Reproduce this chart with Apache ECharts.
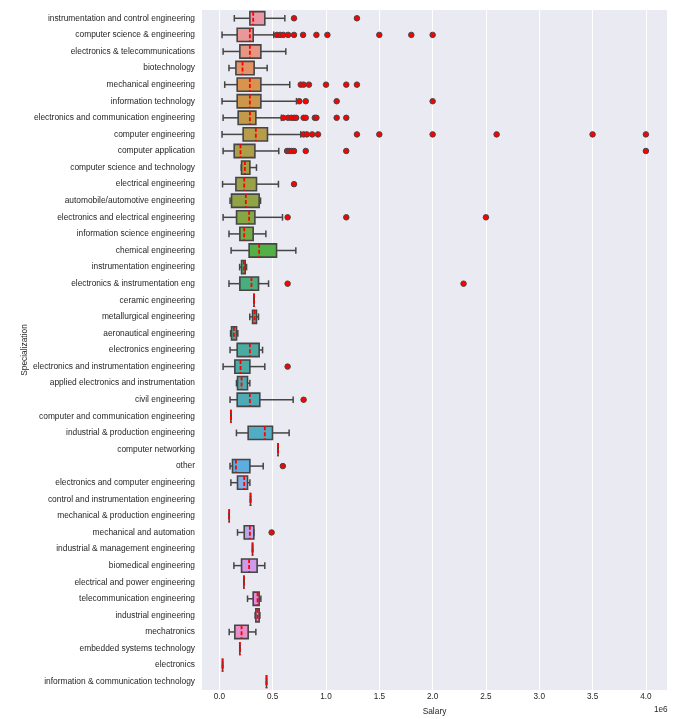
<!DOCTYPE html>
<html><head><meta charset="utf-8">
<script src="https://cdn.jsdelivr.net/npm/echarts@6/dist/echarts.min.js"></script>
<style>html,body{margin:0;padding:0;background:#fff}#c{width:683px;height:719px}</style>
</head><body><div id="c"></div>
<script>
const categories = [
  "instrumentation and control engineering","computer science & engineering","electronics & telecommunications",
  "biotechnology","mechanical engineering","information technology","electronics and communication engineering",
  "computer engineering","computer application","computer science and technology","electrical engineering",
  "automobile/automotive engineering","electronics and electrical engineering","information science engineering",
  "chemical engineering","instrumentation engineering","electronics & instrumentation eng","ceramic engineering",
  "metallurgical engineering","aeronautical engineering","electronics engineering",
  "electronics and instrumentation engineering","applied electronics and instrumentation","civil engineering",
  "computer and communication engineering","industrial & production engineering","computer networking","other",
  "electronics and computer engineering","control and instrumentation engineering",
  "mechanical & production engineering","mechanical and automation","industrial & management engineering",
  "biomedical engineering","electrical and power engineering","telecommunication engineering",
  "industrial engineering","mechatronics","embedded systems technology","electronics",
  "information & communication technology"
];
const whiskerLow = [140000,25000,35000,90000,50000,25000,35000,25000,35000,205000,30000,100000,35000,90000,110000,190000,90000,325000,285000,105000,100000,35000,160000,100000,108000,160000,550000,100000,108000,292000,92000,170000,311000,136000,230000,264000,335000,92000,192000,30000,442000];
const q1 = [286000,167000,192000,155000,167000,167000,176000,223000,139000,208000,155000,114000,161000,192000,279000,208000,192000,325000,311000,114000,167000,145000,170000,167000,108000,270000,550000,123000,170000,292000,92000,233000,311000,208000,230000,317000,342000,145000,192000,30000,442000];
const median = [317000,286000,286000,217000,286000,286000,286000,342000,198000,239000,233000,248000,279000,233000,373000,230000,301000,325000,330000,136000,286000,198000,208000,286000,108000,426000,550000,155000,233000,292000,92000,286000,311000,279000,230000,358000,358000,208000,192000,30000,442000];
const q3 = [426000,317000,389000,326000,389000,389000,342000,451000,333000,286000,348000,373000,333000,317000,536000,242000,367000,325000,348000,161000,373000,286000,264000,379000,108000,498000,550000,286000,264000,292000,92000,323000,311000,354000,230000,373000,373000,270000,192000,30000,442000];
const whiskerHigh = [614000,510000,623000,448000,660000,723000,582000,763000,557000,348000,554000,386000,592000,436000,717000,255000,461000,325000,367000,173000,405000,426000,286000,692000,108000,654000,550000,411000,286000,292000,92000,323000,311000,426000,230000,389000,380000,342000,192000,30000,442000];
const outliers = [
  [700000,1290000],
  [540000,570000,600000,645000,700000,785000,910000,1013000,1500000,1800000,2000000],
  [],[],
  [763000,790000,840000,1000000,1190000,1290000],
  [750000,810000,1100000,2000000],
  [600000,645000,675000,700000,720000,790000,810000,895000,910000,1100000,1190000],
  [790000,820000,870000,925000,1290000,1500000,2000000,2600000,3500000,4000000],
  [635000,655000,675000,700000,810000,1190000,4000000],
  [],
  [700000],
  [],
  [640000,1190000,2500000],
  [],[],[],
  [640000,2290000],
  [],[],[],[],
  [640000],
  [],
  [790000],
  [],[],[],
  [595000],
  [],[],[],
  [490000],
  [],[],[],[],[],[],[],[],[]
];
const xTicks = [0,500000,1000000,1500000,2000000,2500000,3000000,3500000,4000000];

// ---- seaborn husl palette (l=.7) desaturated by .75 ----
const HM = [[3.2406,-1.5372,-0.4986],[-0.9689,1.8758,0.0415],[0.0557,-0.2040,1.0570]];
const refU = 0.19784, refV = 0.46834, kappa = 903.2962962, eps = 0.0088564516;
function maxChroma(L,H){
  const hr = H*Math.PI/180, sinH=Math.sin(hr), cosH=Math.cos(hr);
  const sub1 = Math.pow(L+16,3)/1560896, sub2 = sub1>0.008856?sub1:L/903.3;
  let res = Infinity;
  for (const r of HM){
    const top=(0.99915*r[0]+1.05122*r[1]+1.14460*r[2])*sub2;
    const rb=0.86330*r[2]-0.17266*r[1], lb=0.12949*r[2]-0.38848*r[0];
    const bottom=(rb*sinH+lb*cosH)*sub2;
    for (const t of [0,1]){
      const C=L*(top-1.05122*t)/(bottom+0.17266*sinH*t);
      if (C>0 && C<res) res=C;
    }
  }
  return res;
}
function fInv(t){ return Math.pow(t,3)>eps ? Math.pow(t,3) : (116*t-16)/kappa; }
function fromLin(c){ return c<=0.0031308?12.92*c:1.055*Math.pow(c,1/2.4)-0.055; }
function huslToRgb(H,S,L){
  const C = maxChroma(L,H)/100*S;
  const hr=H*Math.PI/180, U=Math.cos(hr)*C, V=Math.sin(hr)*C;
  const Y=fInv((L+16)/116), vu=U/(13*L)+refU, vv=V/(13*L)+refV;
  const X=0-(9*Y*vu)/((vu-4)*vv-vu*vv), Z=(9*Y-15*vv*Y-vv*X)/(3*vv);
  return HM.map(r=>Math.min(1,Math.max(0,fromLin(r[0]*X+r[1]*Y+r[2]*Z))));
}
function rgbToHls(r,g,b){
  const mx=Math.max(r,g,b), mn=Math.min(r,g,b), l=(mx+mn)/2;
  if (mx===mn) return [0,l,0];
  const d=mx-mn, s = l<=0.5? d/(mx+mn) : d/(2-mx-mn);
  let h;
  if (r===mx) h=(g-b)/d; else if (g===mx) h=2+(b-r)/d; else h=4+(r-g)/d;
  h=((h/6)%1+1)%1;
  return [h,l,s];
}
function hlsToRgb(h,l,s){
  if (s===0) return [l,l,l];
  const m2 = l<=0.5? l*(1+s) : l+s-l*s, m1=2*l-m2;
  function v(hh){ hh=((hh%1)+1)%1; if(hh<1/6) return m1+(m2-m1)*hh*6; if(hh<0.5) return m2; if(hh<2/3) return m1+(m2-m1)*(2/3-hh)*6; return m1; }
  return [v(h+1/3),v(h),v(h-1/3)];
}
const nC = categories.length;
const boxColors = [], lights = [];
for (let i=0;i<nC;i++){
  let h = (i/nC + 0.01)%1*359;
  const rgb = huslToRgb(h, 0.9*99, 0.7*99);
  const hls = rgbToHls(rgb[0],rgb[1],rgb[2]);
  const d = hlsToRgb(hls[0],hls[1],hls[2]*0.75);
  lights.push(rgbToHls(d[0],d[1],d[2])[1]);
  boxColors.push('rgb('+d.map(x=>Math.round(x*255)).join(',')+')');
}
const lum = Math.round(Math.min(...lights)*0.6*255);
const gray = 'rgb('+lum+','+lum+','+lum+')';

const boxData = categories.map((c,i)=>[i, whiskerLow[i], q1[i], median[i], q3[i], whiskerHigh[i]]);
const outlierData = [];
outliers.forEach((arr,i)=>arr.forEach(v=>outlierData.push([v,i])));

function renderBox(params, api){
  const cat = api.value(0);
  const pLo=api.coord([api.value(1),cat]), pQ1=api.coord([api.value(2),cat]), pMed=api.coord([api.value(3),cat]);
  const pQ3=api.coord([api.value(4),cat]), pHi=api.coord([api.value(5),cat]);
  const band = api.size([0,1])[1];
  const bh = band*0.8, ch = bh*0.5, y = pMed[1];
  const ls = {stroke: gray, lineWidth: 1.5};
  return {type:'group', children:[
    {type:'line', shape:{x1:pLo[0],y1:y,x2:pQ1[0],y2:y}, style:ls},
    {type:'line', shape:{x1:pQ3[0],y1:y,x2:pHi[0],y2:y}, style:ls},
    {type:'line', shape:{x1:pLo[0],y1:y-ch/2,x2:pLo[0],y2:y+ch/2}, style:ls},
    {type:'line', shape:{x1:pHi[0],y1:y-ch/2,x2:pHi[0],y2:y+ch/2}, style:ls},
    {type:'rect', shape:{x:pQ1[0],y:y-bh/2,width:pQ3[0]-pQ1[0],height:bh}, style:{fill:boxColors[cat], stroke:gray, lineWidth:1.6}},
    {type:'line', shape:{x1:pMed[0],y1:y-bh/2,x2:pMed[0],y2:y+bh/2}, style:{stroke:'#ff0000', lineWidth:1.8, lineDash:[4,2]}}
  ]};
}

const font = '"Liberation Sans", Arial, sans-serif';
const chart = echarts.init(document.getElementById('c'), null, {renderer:'canvas'});
chart.setOption({
  animation:false,
  backgroundColor:'#ffffff',
  grid:{left:202, right:16, top:10, bottom:29, show:true, backgroundColor:'#eaeaf2', borderWidth:0,
        containLabel:false, outerBoundsMode:'none'},
  xAxis:{type:'value', min:-163000, max:4198000,
    name:'Salary', nameLocation:'middle', nameGap:18, nameMoveOverlap:false,
    nameTextStyle:{fontFamily:font, fontSize:8.4, color:'#262626'},
    axisLine:{show:false},
    axisTick:{show:false, customValues:xTicks},
    axisLabel:{customValues:xTicks, fontFamily:font, fontSize:8.2, color:'#262626', margin:3,
      formatter:v=>(v/1e6).toFixed(1)},
    splitLine:{show:true, lineStyle:{color:'#ffffff', width:1}}
  },
  yAxis:{type:'category', data:categories, inverse:true,
    name:'Specialization', nameLocation:'middle', nameGap:173, nameRotate:90, nameMoveOverlap:false,
    nameTextStyle:{fontFamily:font, fontSize:8.4, color:'#262626'},
    axisLine:{show:false}, axisTick:{show:false}, splitLine:{show:false},
    axisLabel:{fontFamily:font, fontSize:8.4, color:'#262626', margin:7, interval:0}
  },
  graphic:[{type:'text', left:654, top:706, style:{text:'1e6', font:'8.2px '+font, fill:'#262626'}}],
  series:[
    {type:'custom', renderItem:renderBox, data:boxData,
     encode:{y:0, x:[1,2,3,4,5]}, z:2},
    {type:'scatter', data:outlierData, symbol:'circle', symbolSize:5.5,
     itemStyle:{color:'#ff0000', borderColor:gray, borderWidth:1, opacity:1}, z:3}
  ]
});
</script>
</body></html>
